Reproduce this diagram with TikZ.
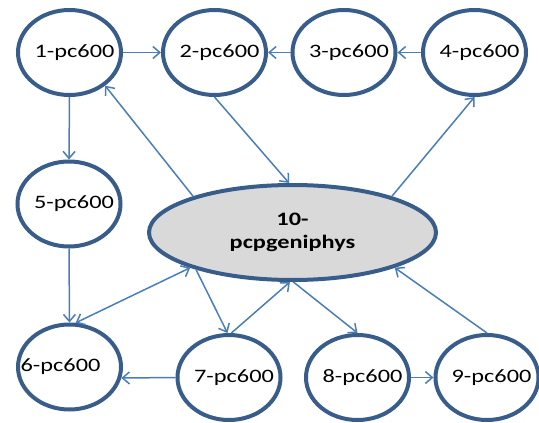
\documentclass[tikz,border=0pt]{standalone}
\usepackage{fontspec}
\setmainfont[FakeStretch=1.28]{Carlito}
\usetikzlibrary{shapes.geometric,arrows.meta}
\definecolor{bord}{HTML}{385D8A}
\definecolor{edgec}{HTML}{4A7EBB}
\definecolor{fillg}{HTML}{D9D9D9}
\begin{document}
\begin{tikzpicture}[x=1pt,y=-1pt,
  pc/.style={ellipse, draw=bord, line width=4pt, minimum width=103pt, minimum height=85pt, inner sep=0pt, fill=white},
  lbl/.style={font=\fontsize{19}{23}\selectfont, inner sep=0pt, text=black},
  hub/.style={ellipse, draw=bord, line width=4pt, fill=fillg, minimum width=287pt, minimum height=95pt, inner sep=0pt, align=center, font=\bfseries\fontsize{19}{23}\selectfont},
  arr/.style={draw=edgec, line width=1.5pt, -{Straight Barb[length=7pt,width=12pt]}},
  darr/.style={draw=edgec, line width=1.5pt, {Straight Barb[length=7pt,width=12pt]}-{Straight Barb[length=7pt,width=12pt]}}
  ]
\useasboundingbox (0,0) rectangle (539,423);

\node[pc, label={[lbl,xshift=5pt]center:1-pc600}] (n1) at (69.5,52.5) {};
\node[pc, label={[lbl,xshift=5pt]center:2-pc600}] (n2) at (214.5,52.5) {};
\node[pc, label={[lbl,xshift=5pt]center:3-pc600}] (n3) at (344,52.5) {};
\node[pc, label={[lbl,xshift=5pt]center:4-pc600}] (n4) at (474.5,52.5) {};
\node[pc, label={[lbl,xshift=5pt]center:5-pc600}] (n5) at (69,204) {};
\node[pc, label={[lbl,xshift=-9pt]center:6-pc600}] (n6) at (69.5,367) {};
\node[pc, label={[lbl,xshift=5pt]center:7-pc600}] (n7) at (229,377.5) {};
\node[pc, label={[lbl,xshift=5pt]center:8-pc600}] (n8) at (357.5,377.5) {};
\node[pc, label={[lbl,xshift=4.5pt]center:9-pc600}] (n9) at (487,377.5) {};
\node[hub] (n10) at (292.5,232.5) {10-\\pcpgeniphys};

\draw[arr] (n1.east) -- (n2.west);
\draw[arr] (n3.west) -- (n2.east);
\draw[arr] (n4.west) -- (n3.east);
\draw[arr] (n1.south) -- (n5.north);
\draw[arr] (n10.160) -- (n1.-43);
\draw[arr] (n2.south) -- (n10.94);
\draw[arr] (n10.20) -- (n4.south);
\draw[arr] (n5.south) -- (n6.north);
\draw[darr] (n6.82) -- (n10.199);
\draw[arr] (n7.west) -- (n6.-12);
\draw[arr] (n10.201) -- (n7.92);
\draw[arr] (n7.87) -- (n10.267);
\draw[arr] (n10.271) -- (n8.north);
\draw[arr] (n8.east) -- (n9.west);
\draw[arr] (n9.north) -- (n10.341);
\end{tikzpicture}
\end{document}
